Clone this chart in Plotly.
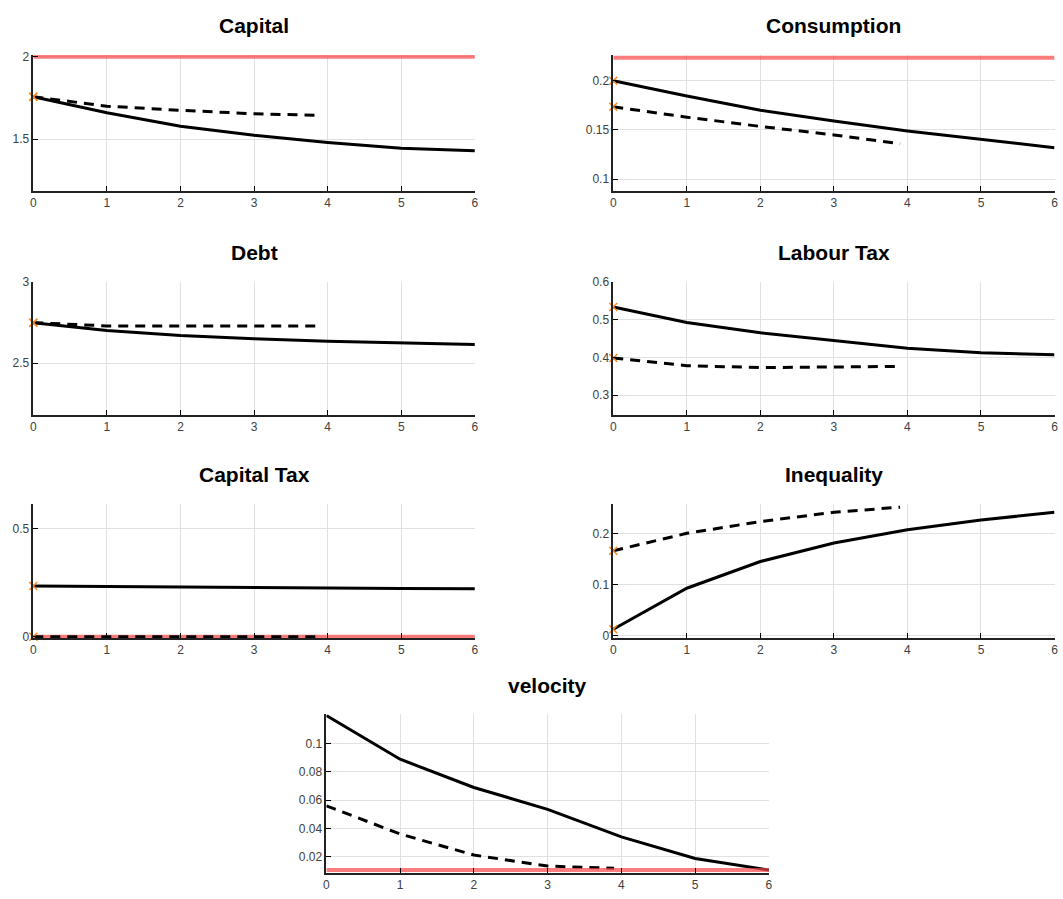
import plotly.graph_objects as go

t_solid = [0, 1, 2, 3, 4, 5, 6]
t_dash = [0, 1, 2, 3, 3.9]

titles = ["Capital", "Consumption", "Debt", "Labour Tax", "Capital Tax", "Inequality", "velocity"]

capital_solid = [1.757, 1.66, 1.578, 1.523, 1.48, 1.444, 1.43]
capital_dash = [1.757, 1.70, 1.675, 1.654, 1.644]
capital_ref = 2.0

consumption_solid = [0.2, 0.1845, 0.170, 0.159, 0.149, 0.1405, 0.132]
consumption_dash = [0.1735, 0.163, 0.1536, 0.145, 0.136]
consumption_ref = 0.2233

debt_solid = [2.748, 2.70, 2.669, 2.649, 2.634, 2.624, 2.614]
debt_dash = [2.748, 2.728, 2.727, 2.727, 2.727]

labour_solid = [0.533, 0.492, 0.465, 0.445, 0.424, 0.412, 0.407]
labour_dash = [0.398, 0.378, 0.373, 0.374, 0.376]

captax_solid = [0.235, 0.232, 0.229, 0.227, 0.225, 0.223, 0.222]
captax_dash = [0.0, 0.0, 0.0, 0.0, 0.0]
captax_ref = 0.0

ineq_solid = [0.013, 0.093, 0.145, 0.181, 0.207, 0.226, 0.241]
ineq_dash = [0.166, 0.20, 0.223, 0.241, 0.251]

vel_solid = [0.12, 0.089, 0.069, 0.0535, 0.034, 0.0187, 0.0105]
vel_dash = [0.056, 0.036, 0.0211, 0.0133, 0.0117]
vel_ref = 0.0105

panels = [
    dict(solid=capital_solid, dash=capital_dash, ref=capital_ref, yr=[1.185, 2.01], ticks=[1.5, 2], labels=["1.5", "2"], mark=True),
    dict(solid=consumption_solid, dash=consumption_dash, ref=consumption_ref, yr=[0.088, 0.226], ticks=[0.1, 0.15, 0.2], labels=["0.1", "0.15", "0.2"], mark=True),
    dict(solid=debt_solid, dash=debt_dash, ref=None, yr=[2.184, 3.0], ticks=[2.5, 3], labels=["2.5", "3"], mark=True),
    dict(solid=labour_solid, dash=labour_dash, ref=None, yr=[0.249, 0.6], ticks=[0.3, 0.4, 0.5, 0.6], labels=["0.3", "0.4", "0.5", "0.6"], mark=True),
    dict(solid=captax_solid, dash=captax_dash, ref=captax_ref, yr=[-0.006, 0.614], ticks=[0, 0.5], labels=["0", "0.5"], mark=True),
    dict(solid=ineq_solid, dash=ineq_dash, ref=None, yr=[-0.004, 0.257], ticks=[0, 0.1, 0.2], labels=["0", "0.1", "0.2"], mark=True),
    dict(solid=vel_solid, dash=vel_dash, ref=vel_ref, yr=[0.0087, 0.1207], ticks=[0.02, 0.04, 0.06, 0.08, 0.1], labels=["0.02", "0.04", "0.06", "0.08", "0.1"], mark=False),
]

W, H = 1063, 899
# pixel boxes (left, right, top, bottom)
boxes = [
    (30.5, 475, 57, 192), (614.3, 1058.5, 57, 192),
    (30.5, 475, 282, 414), (614.3, 1058.5, 282, 414),
    (30.5, 475, 503, 636), (614.3, 1058.5, 503, 636),
    (325.5, 771, 712, 869),
]


def fy(y):
    return (y - 9.2) / 0.979


FONT = "Liberation Sans, Arial, sans-serif"
RED = "rgba(250,70,70,0.7)"
ORANGE = "rgb(245,140,30)"

fig = go.Figure()
layout = dict(width=W, height=H, margin=dict(l=0, r=0, t=0, b=0),
              paper_bgcolor="white", plot_bgcolor="white", showlegend=False,
              font=dict(family=FONT, size=12, color="#404040"))
annotations = []

for i, (p, b) in enumerate(zip(panels, boxes)):
    n = i + 1
    xa = "x" if n == 1 else f"x{n}"
    ya = "y" if n == 1 else f"y{n}"
    l, r, t, bt = b
    t2, b2 = fy(t), fy(bt)
    layout[f"xaxis{'' if n == 1 else n}"] = dict(
        domain=[l / W, r / W], anchor=ya, range=[0, 6], tickvals=list(range(7)),
        ticks="inside", ticklen=5, tickcolor="black", showline=True, linecolor="#222", linewidth=1.5,
        showgrid=True, gridcolor="rgb(225,225,225)", gridwidth=1, zeroline=False,
        tickfont=dict(family=FONT, size=12, color="#404040"), fixedrange=True)
    layout[f"yaxis{'' if n == 1 else n}"] = dict(
        domain=[1 - b2 / H, 1 - t2 / H], anchor=xa, range=p["yr"], tickvals=p["ticks"], ticktext=p["labels"],
        ticks="inside", ticklen=5, tickcolor="black", showline=True, linecolor="#222", linewidth=1.5,
        showgrid=True, gridcolor="rgb(225,225,225)", gridwidth=1, zeroline=False,
        tickfont=dict(family=FONT, size=12, color="#404040"), fixedrange=True)
    if p["ref"] is not None and n != 7:
        fig.add_trace(go.Scatter(x=[0, 6], y=[p["ref"], p["ref"]], mode="lines",
                                 line=dict(color=RED, width=4), xaxis=xa, yaxis=ya, cliponaxis=False))
    fig.add_trace(go.Scatter(x=t_solid, y=p["solid"], mode="lines", line=dict(color="black", width=3),
                             xaxis=xa, yaxis=ya, cliponaxis=False))
    fig.add_trace(go.Scatter(x=t_dash, y=p["dash"], mode="lines", line=dict(color="black", width=3, dash="10px,7px"),
                             xaxis=xa, yaxis=ya, cliponaxis=False))
    if p["ref"] is not None and n == 7:
        fig.add_trace(go.Scatter(x=[0, 6], y=[p["ref"], p["ref"]], mode="lines",
                                 line=dict(color=RED, width=4), xaxis=xa, yaxis=ya, cliponaxis=False))
    if p["mark"]:
        fig.add_trace(go.Scatter(x=[0, 0], y=[p["solid"][0], p["dash"][0]], mode="markers",
                                 marker=dict(symbol="x-thin", size=8, line=dict(color=ORANGE, width=1.5)),
                                 xaxis=xa, yaxis=ya, cliponaxis=False))
    annotations.append(dict(text=f"<b>{titles[i]}</b>", x=(l + r) / 2 / W, y=1 - fy(t - 29) / H,
                            xref="paper", yref="paper", showarrow=False, xanchor="center", yanchor="middle",
                            font=dict(family=FONT, size=21, color="black")))

layout["annotations"] = annotations
fig.update_layout(**layout)
fig.write_html("out.html")
